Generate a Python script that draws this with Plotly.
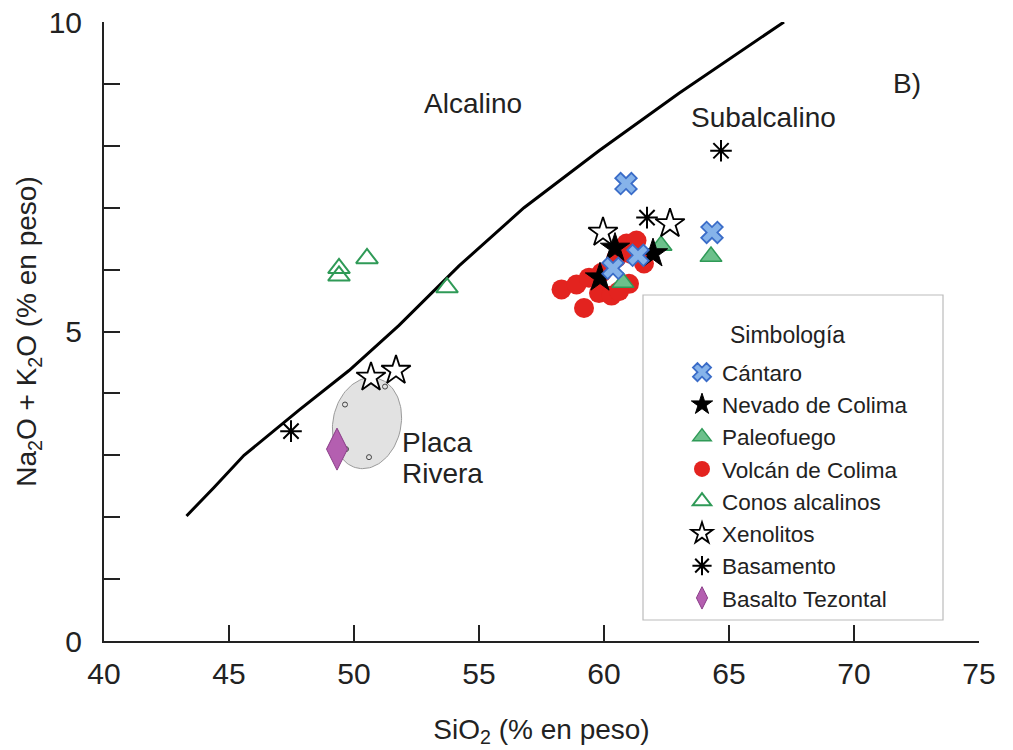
import numpy as np
import plotly.graph_objects as go

# Alkaline / subalkaline dividing line
line_sio2 = [43.3, 44.4, 45.6, 47.8, 49.8, 51.8, 54.2, 56.8, 59.8, 63.0, 67.2]
line_alk = [2.02, 2.48, 3.0, 3.73, 4.37, 5.1, 6.06, 7.0, 7.92, 8.85, 10.0]

# Series
cantaro_x = [60.88, 64.32, 60.36, 61.36]
cantaro_y = [7.39, 6.60, 6.02, 6.23]

nevado_x = [60.44, 61.96, 59.84]
nevado_y = [6.35, 6.26, 5.87]

paleo_x = [64.28, 62.28, 60.76]
paleo_y = [6.21, 6.39, 5.79]

volcan_x = [58.3, 58.9, 59.4, 59.2, 59.8, 60.3, 61.0, 60.9, 61.3, 61.6, 60.5, 59.9, 60.6, 61.1]
volcan_y = [5.68, 5.76, 5.87, 5.38, 5.62, 5.58, 5.77, 6.42, 6.47, 6.10, 6.19, 5.95, 5.65, 6.25]

conos_x = [49.4, 49.4, 50.52, 53.72]
conos_y = [6.02, 5.90, 6.18, 5.71]

xeno_x = [50.68, 51.68, 59.96, 62.64]
xeno_y = [4.26, 4.37, 6.60, 6.74]

basam_x = [47.48, 64.68, 61.72]
basam_y = [3.39, 7.92, 6.84]

tezontal_x = [49.32]
tezontal_y = [3.10]

rivera_x = [51.24, 49.64, 49.68, 50.60]
rivera_y = [4.11, 3.82, 3.10, 2.97]

x_ticks = [40, 45, 50, 55, 60, 65, 70, 75]
y_ticks = [0, 1, 2, 3, 4, 5, 6, 7, 8, 9, 10]
y_ticklabels = ["0", "", "", "", "", "5", "", "", "", "", "10"]

FONT = "Liberation Sans, Arial, sans-serif"
TXT = "#222222"

# body margin is removed by post_script, so the figure fills the window
ML, MR, MT, MB = 104, 34, 22, 109
W, H = 1013, 750
PW, PH = W - ML - MR, H - MT - MB


def px_to_paper(px, py):
    # window pixel -> paper coordinates
    return (px - ML) / PW, 1 - (py - MT) / PH


fig = go.Figure()

# Placa Rivera ellipse (computed in pixel space then scaled to data units)
cx, cy = 50.52, 3.52
px_x, px_y = PW / 35.0, PH / 10.0  # pixels per data unit
a, b, ang = 34.0, 46.0, np.deg2rad(-12)
t = np.linspace(0, 2 * np.pi, 120)
ex = a * np.cos(t)
ey = b * np.sin(t)
rx = ex * np.cos(ang) - ey * np.sin(ang)
ry = ex * np.sin(ang) + ey * np.cos(ang)
fig.add_trace(go.Scatter(x=cx + rx / px_x, y=cy + ry / px_y, mode="lines", fill="toself",
                         fillcolor="#e2e2e2", line=dict(color="#9a9a9a", width=1),
                         showlegend=False, hoverinfo="skip"))
fig.add_trace(go.Scatter(x=rivera_x, y=rivera_y, mode="markers", showlegend=False,
                         marker=dict(symbol="circle-open", size=5, color="#444444",
                                     line=dict(width=1))))

# Boundary line
fig.add_trace(go.Scatter(x=line_sio2, y=line_alk, mode="lines", showlegend=False,
                         line=dict(color="black", width=3)))

fig.add_trace(go.Scatter(x=volcan_x, y=volcan_y, mode="markers", name="Volcán de Colima",
                         legendrank=4, legendgroup="g4",
                         marker=dict(symbol="circle", size=20, color="#e3231f",
                                     line=dict(color="#e3231f", width=0))))
fig.add_trace(go.Scatter(x=paleo_x, y=paleo_y, mode="markers", name="Paleofuego",
                         legendrank=3, legendgroup="g3",
                         marker=dict(symbol="triangle-up", size=19, color="#6cc08b",
                                     line=dict(color="#2f9a57", width=1.5))))
fig.add_trace(go.Scatter(x=conos_x, y=conos_y, mode="markers", name="Conos alcalinos",
                         legendrank=5, legendgroup="g5",
                         marker=dict(symbol="triangle-up-open", size=19, color="#2f9a57",
                                     line=dict(color="#2f9a57", width=2))))
fig.add_trace(go.Scatter(x=xeno_x, y=xeno_y, mode="markers", name="Xenolitos",
                         legendrank=6, legendgroup="g6",
                         marker=dict(symbol="star", size=22, color="white",
                                     line=dict(color="black", width=1.8))))
fig.add_trace(go.Scatter(x=nevado_x, y=nevado_y, mode="markers", name="Nevado de Colima",
                         legendrank=2, legendgroup="g2",
                         marker=dict(symbol="star", size=22, color="black",
                                     line=dict(color="black", width=1))))
fig.add_trace(go.Scatter(x=cantaro_x, y=cantaro_y, mode="markers", name="Cántaro",
                         legendrank=1, legendgroup="g1",
                         marker=dict(symbol="x", size=19, color="#86b3ea",
                                     line=dict(color="#3a6cc8", width=1.8))))
fig.add_trace(go.Scatter(x=basam_x, y=basam_y, mode="markers", name="Basamento",
                         legendrank=7, legendgroup="g7",
                         marker=dict(symbol="asterisk-open", size=18, color="black",
                                     line=dict(color="black", width=2))))
fig.add_trace(go.Scatter(x=tezontal_x, y=tezontal_y, mode="markers", name="Basalto Tezontal",
                         legendrank=8, legendgroup="g8",
                         marker=dict(symbol="diamond-tall", size=30, color="#b45fb0",
                                     line=dict(color="#8a3d88", width=1))))

# Text labels
lab_font = dict(size=28, color=TXT, family=FONT)
fig.add_annotation(x=54.76, y=8.68, text="Alcalino", showarrow=False, font=lab_font)
fig.add_annotation(x=66.36, y=8.45, text="Subalcalino", showarrow=False, font=lab_font)
fig.add_annotation(x=72.1, y=9.0, text="B)", showarrow=False, font=lab_font)
fig.add_annotation(x=51.84, y=3.21, text="Placa", showarrow=False, xanchor="left", font=lab_font)
fig.add_annotation(x=51.84, y=2.71, text="Rivera", showarrow=False, xanchor="left", font=lab_font)

# Legend frame and title
bx0, by1 = px_to_paper(643, 295)
bx1, by0 = px_to_paper(943, 620)
fig.add_shape(type="rect", xref="paper", yref="paper", x0=bx0, x1=bx1, y0=by0, y1=by1,
              line=dict(color="#bbbbbb", width=1.2), fillcolor="white", layer="below")
tx, ty = px_to_paper(787, 335)
fig.add_annotation(xref="paper", yref="paper", x=tx, y=ty, text="Simbología",
                   xanchor="center", yanchor="middle",
                   showarrow=False, font=dict(size=23, color=TXT, family=FONT))
lx, ly = px_to_paper(682, 351)

fig.update_layout(
    width=W, height=H,
    margin=dict(l=ML, r=MR, t=MT, b=MB),
    plot_bgcolor="rgba(0,0,0,0)", paper_bgcolor="white",
    font=dict(family=FONT, color=TXT),
    xaxis=dict(range=[40, 75], tickvals=x_ticks, ticks="inside", ticklen=16,
               tickcolor="#222", tickwidth=1.5, showline=True, linecolor="#222", linewidth=2,
               showgrid=False, zeroline=False, tickfont=dict(size=30), automargin=False,
               ticklabelstandoff=5, ticklabeloverflow="allow",
               title=dict(text="SiO<sub>2</sub> (% en peso)", font=dict(size=28), standoff=30)),
    yaxis=dict(range=[0, 10], tickvals=y_ticks, ticktext=y_ticklabels, ticks="inside",
               ticklen=16, tickcolor="#222", tickwidth=1.5, showline=True, linecolor="#222",
               linewidth=2, showgrid=False, zeroline=False, tickfont=dict(size=30),
               automargin=False, ticklabelstandoff=14, ticklabeloverflow="allow",
               title=dict(text="Na<sub>2</sub>O + K<sub>2</sub>O (% en peso)",
                          font=dict(size=28), standoff=4)),
    legend=dict(x=lx, y=ly, xanchor="left", yanchor="top",
                borderwidth=0, bgcolor="rgba(0,0,0,0)",
                font=dict(size=22.5, color=TXT),
                itemsizing="trace", tracegroupgap=0),
)

fig.write_html("out.html", config={"displayModeBar": False},
               post_script="document.body.style.margin='0';document.body.style.overflow='hidden';")
